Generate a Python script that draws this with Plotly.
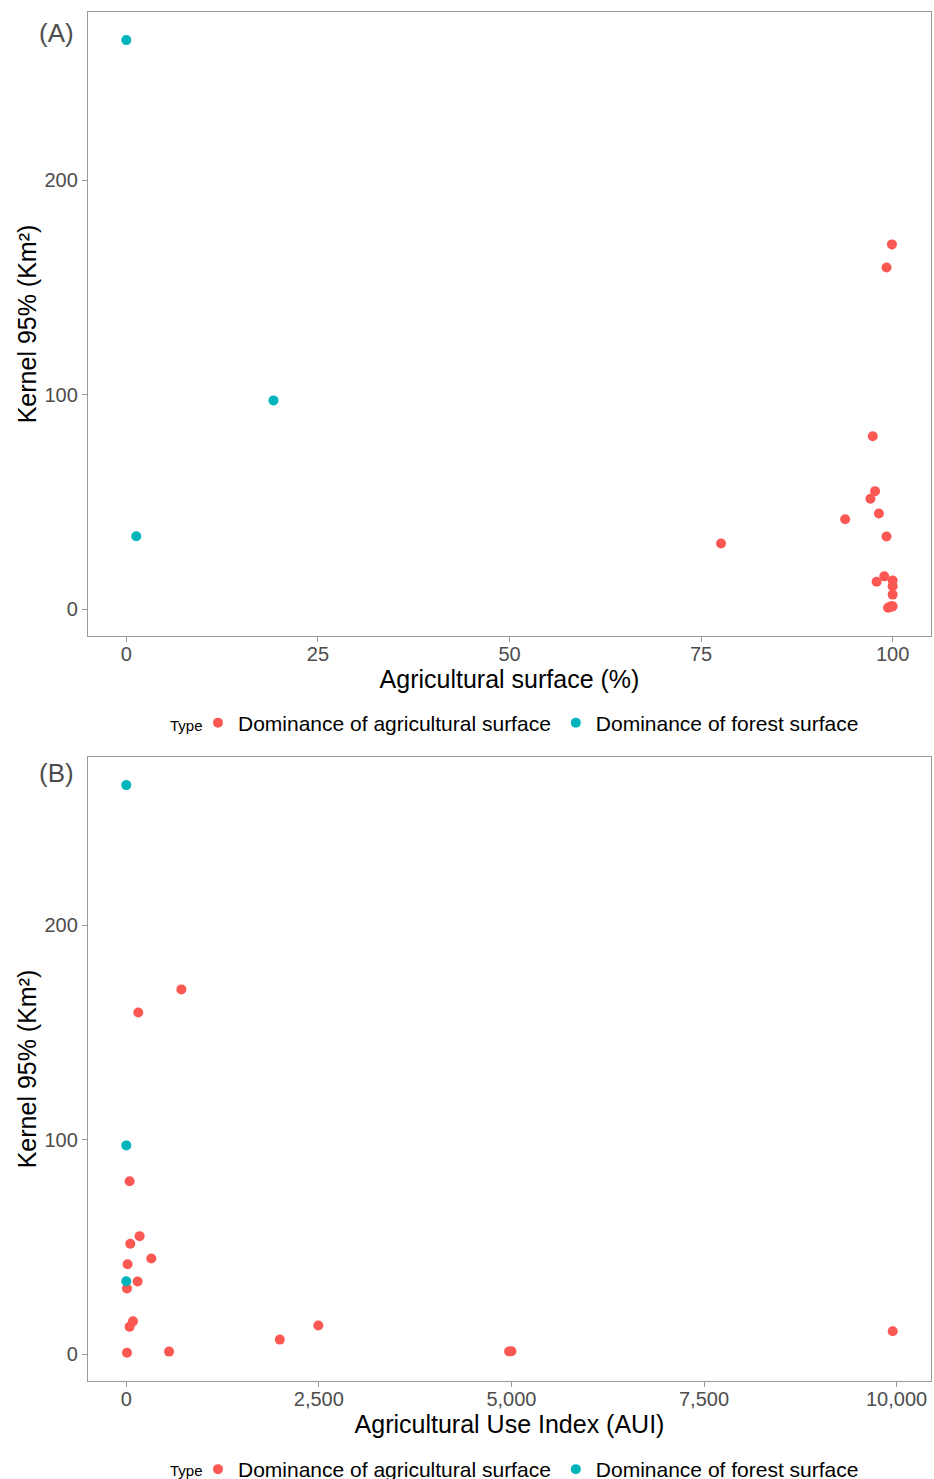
import plotly.graph_objects as go

# ---------------- data ----------------
agri_pct_agri = [99.9, 99.2, 97.4, 97.7, 97.1, 98.2, 93.8, 99.2, 77.6, 98.9, 97.9, 100.0, 100.0, 100.0, 99.4, 99.9, 99.7, 100.0]
aui_agri =      [715, 156, 43, 173, 52, 325, 17, 147, 9, 87, 43, 2493, 9950, 1993, 9, 555, 4970, 5000]
kernel_agri =   [170.1, 159.3, 80.7, 55.1, 51.6, 44.7, 42.0, 34.0, 30.7, 15.4, 12.9, 13.5, 10.8, 6.9, 0.8, 1.3, 1.4, 1.5]

agri_pct_forest = [0.0, 19.2, 1.3]
aui_forest =      [0, 0, 0]
kernel_forest =   [265.3, 97.4, 34.1]

type_labels = ["Dominance of agricultural surface", "Dominance of forest surface"]
colors = ["#FB5853", "#00B4BC"]

y_ticks = [0, 100, 200]
xA_ticks = [0, 25, 50, 75, 100]
xB_ticks = [0, 2500, 5000, 7500, 10000]
xB_ticktext = ["0", "2,500", "5,000", "7,500", "10,000"]

# ---------------- figure ----------------
W, H = 934, 1490
fig = go.Figure()

def py(pix):
    return 1 - pix / H

def px(pix):
    return pix / W

for i, (xs, ks) in enumerate([(agri_pct_agri, kernel_agri), (agri_pct_forest, kernel_forest)]):
    fig.add_trace(go.Scatter(x=xs, y=ks, mode="markers", name=type_labels[i],
                             marker=dict(size=10, color=colors[i]),
                             xaxis="x", yaxis="y", legend="legend", showlegend=True))
for i, (xs, ks) in enumerate([(aui_agri, kernel_agri), (aui_forest, kernel_forest)]):
    fig.add_trace(go.Scatter(x=xs, y=ks, mode="markers", name=type_labels[i],
                             marker=dict(size=10, color=colors[i]),
                             xaxis="x2", yaxis="y2", legend="legend2", showlegend=True))

FAM = "Liberation Sans, Arial, sans-serif"
tickfont = dict(family=FAM, size=20, color="#4D4D4D")
titlefont = dict(family=FAM, size=25, color="black")
axcommon = dict(showline=True, linecolor="#9A9A9A", linewidth=1.3, mirror=True,
                showgrid=False, zeroline=False, ticks="outside", ticklen=5,
                tickcolor="#9A9A9A", tickwidth=1.3, tickfont=tickfont)

ymin, ymax = -12.4, 278.4
xdom = [px(88), px(931)]

legcommon = dict(orientation="h", xanchor="left", x=px(198),
                 font=dict(family=FAM, size=21, color="black"),
                 bgcolor="rgba(0,0,0,0)", itemwidth=30, tracegroupgap=0)

fig.update_layout(
    width=W, height=H,
    margin=dict(l=0, r=0, t=0, b=0),
    paper_bgcolor="white", plot_bgcolor="white",
    xaxis=dict(domain=xdom, anchor="y", range=[-5, 105], tickvals=xA_ticks, ticklabelstandoff=-5,
               title=dict(text="Agricultural surface (%)", font=titlefont, standoff=2), **axcommon),
    yaxis=dict(domain=[py(636), py(12)], anchor="x", range=[ymin, ymax], tickvals=y_ticks,
               title=dict(text="Kernel 95% (Km²)", font=titlefont, standoff=0), **axcommon),
    xaxis2=dict(domain=xdom, anchor="y2", range=[-497, 10447], tickvals=xB_ticks, ticktext=xB_ticktext,
                ticklabelstandoff=-5,
                title=dict(text="Agricultural Use Index (AUI)", font=titlefont, standoff=2), **axcommon),
    yaxis2=dict(domain=[py(1381), py(757)], anchor="x2", range=[ymin, ymax], tickvals=y_ticks,
                title=dict(text="Kernel 95% (Km²)", font=titlefont, standoff=0), **axcommon),
    legend=dict(y=py(723), yanchor="middle", **legcommon),
    legend2=dict(y=0.0, yanchor="bottom", **legcommon),
    annotations=[
        dict(text="(A)", x=px(56), y=py(33), xref="paper", yref="paper", showarrow=False,
             xanchor="center", yanchor="middle",
             font=dict(family=FAM, size=26, color="#4D4D4D")),
        dict(text="(B)", x=px(56), y=py(773), xref="paper", yref="paper", showarrow=False,
             xanchor="center", yanchor="middle",
             font=dict(family=FAM, size=26, color="#4D4D4D")),
        dict(text="Type", x=px(186), y=py(725), xref="paper", yref="paper", showarrow=False,
             xanchor="center", yanchor="middle",
             font=dict(family=FAM, size=15, color="black")),
        dict(text="Type", x=px(186), y=py(1470), xref="paper", yref="paper", showarrow=False,
             xanchor="center", yanchor="middle",
             font=dict(family=FAM, size=15, color="black")),
    ],
)

fig.write_html("out.html", config={"displayModeBar": False},
               post_script="document.body.style.margin='0';document.body.style.overflow='hidden';")
